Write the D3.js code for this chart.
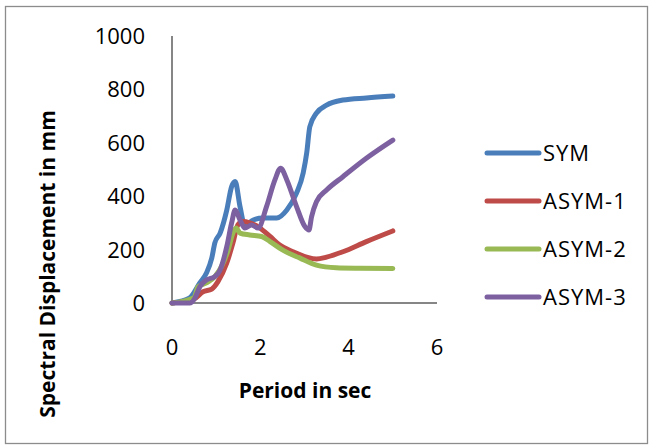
<!DOCTYPE html>
<html>
<head>
<meta charset="utf-8">
<script src="https://cdn.jsdelivr.net/npm/d3@7"></script>
<style>
  html, body { margin: 0; padding: 0; background: #fff; }
  svg { display: block; font-family: "Open Sans", "DejaVu Sans", sans-serif; }
</style>
</head>
<body>
<svg id="chart" width="651" height="446"></svg>
<script>
// Spectral displacement (mm) against period (s) for four building models
const seriesNames = ["SYM", "ASYM-1", "ASYM-2", "ASYM-3"];
const seriesColors = ["#4A7EBB", "#BE4B48", "#98B954", "#7D60A0"];

const symPeriod = [0, 0.4, 0.63, 0.78, 0.9, 0.97, 1.09, 1.24, 1.35, 1.43, 1.54, 1.65, 1.84, 2.06, 2.37, 2.6, 2.82, 2.97, 3.05, 3.12, 3.27, 3.5, 3.87, 4.4, 5.0];
const symDisp   = [0, 19, 75, 112, 168, 225, 262, 348, 436, 455, 361, 290, 311, 318, 318, 348, 412, 487, 562, 660, 711, 741, 760, 768, 775];

const asym1Period = [0, 0.5, 0.7, 0.9, 1.04, 1.24, 1.38, 1.49, 1.6, 1.76, 1.99, 2.22, 2.44, 2.74, 3.05, 3.27, 3.5, 3.87, 4.4, 5.0];
const asym1Disp   = [0, 15, 42, 52, 80, 150, 225, 292, 305, 300, 281, 249, 217, 192, 172, 165, 172, 192, 230, 270];

const asym2Period = [0, 0.5, 0.59, 0.78, 0.97, 1.12, 1.27, 1.38, 1.45, 1.54, 1.76, 2.03, 2.22, 2.51, 2.9, 3.27, 3.72, 4.25, 5.0];
const asym2Disp   = [0, 20, 61, 75, 99, 136, 198, 262, 281, 262, 255, 249, 230, 198, 168, 142, 132, 130, 129];

const asym3Period = [0, 0.4, 0.52, 0.63, 0.78, 0.97, 1.09, 1.24, 1.35, 1.43, 1.54, 1.65, 1.8, 1.95, 2.14, 2.33, 2.46, 2.6, 2.82, 3.01, 3.1, 3.16, 3.27, 3.5, 3.87, 4.4, 5.0];
const asym3Disp   = [0, 0, 19, 61, 86, 99, 124, 211, 300, 348, 311, 281, 292, 281, 361, 461, 505, 461, 361, 286, 273, 323, 379, 423, 473, 542, 610];

const xTicks = [0, 2, 4, 6];
const yTicks = [0, 200, 400, 600, 800, 1000];

const xTitle = "Period in sec";
const yTitle = "Spectral Displacement in mm";

const seriesData = [
  d3.zip(symPeriod, symDisp),
  d3.zip(asym1Period, asym1Disp),
  d3.zip(asym2Period, asym2Disp),
  d3.zip(asym3Period, asym3Disp)
];

const svg = d3.select("#chart");

// chart frame
svg.append("rect")
  .attr("x", 5.5).attr("y", 6.5)
  .attr("width", 642).attr("height", 437)
  .attr("fill", "#fff")
  .attr("stroke", "#8c8c8c")
  .attr("stroke-width", 1.3);

const x = d3.scaleLinear().domain([0, 6]).range([172, 437]);
const y = d3.scaleLinear().domain([0, 1000]).range([303, 36]);

const axisColor = "#868686";

// axis lines
svg.append("line")
  .attr("x1", x(0)).attr("x2", x(0))
  .attr("y1", y(1000)).attr("y2", y(0))
  .attr("stroke", axisColor).attr("stroke-width", 2);
svg.append("line")
  .attr("x1", x(0)).attr("x2", x(6))
  .attr("y1", y(0)).attr("y2", y(0))
  .attr("stroke", axisColor).attr("stroke-width", 2);

// tick labels
svg.append("g").selectAll("text")
  .data(yTicks).join("text")
  .attr("x", 145)
  .attr("y", d => y(d) + 8)
  .attr("text-anchor", "end")
  .attr("font-size", 22)
  .attr("fill", "#000")
  .text(d => d);

svg.append("g").selectAll("text")
  .data(xTicks).join("text")
  .attr("x", d => x(d))
  .attr("y", 355)
  .attr("text-anchor", "middle")
  .attr("font-size", 22)
  .attr("fill", "#000")
  .text(d => d);

// axis titles
svg.append("text")
  .attr("x", 305).attr("y", 398)
  .attr("text-anchor", "middle")
  .attr("font-size", 21)
  .attr("font-weight", "bold")
  .text(xTitle);

svg.append("text")
  .attr("transform", "translate(55,264) rotate(-90)")
  .attr("text-anchor", "middle")
  .attr("font-size", 21)
  .attr("font-weight", "bold")
  .text(yTitle);

// series lines
const line = d3.line()
  .x(d => x(d[0]))
  .y(d => y(d[1]))
  .curve(d3.curveMonotoneX);

svg.append("g").selectAll("path")
  .data(seriesData).join("path")
  .attr("d", line)
  .attr("fill", "none")
  .attr("stroke", (d, i) => seriesColors[i])
  .attr("stroke-width", 5)
  .attr("stroke-linecap", "round")
  .attr("stroke-linejoin", "round");

// legend
const legendY = [153, 201, 249, 297];
const legend = svg.append("g").selectAll("g")
  .data(seriesNames).join("g")
  .attr("transform", (d, i) => `translate(0,${legendY[i]})`);
legend.append("line")
  .attr("x1", 487).attr("x2", 539)
  .attr("y1", 0).attr("y2", 0)
  .attr("stroke", (d, i) => seriesColors[i])
  .attr("stroke-width", 5)
  .attr("stroke-linecap", "round");
legend.append("text")
  .attr("x", 543).attr("y", 8)
  .attr("font-size", 22)
  .attr("letter-spacing", 1)
  .text(d => d);
</script>
</body>
</html>
